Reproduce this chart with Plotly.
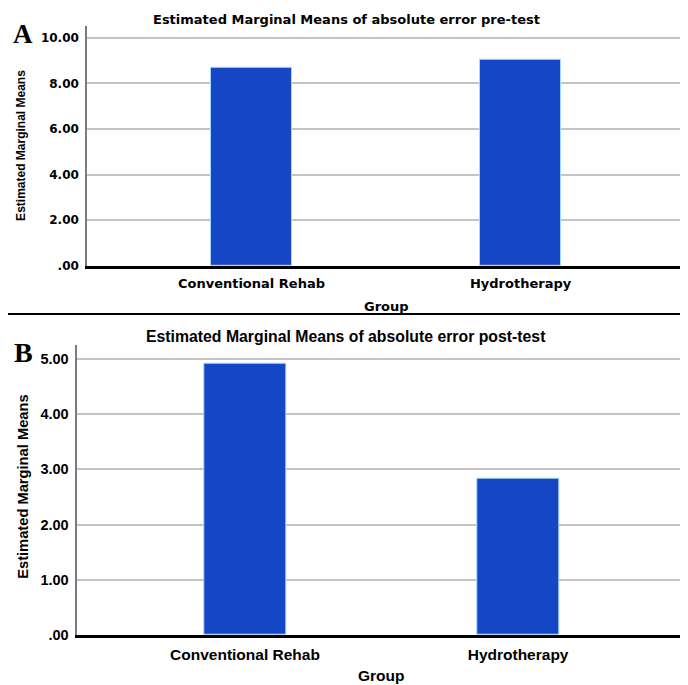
import plotly.graph_objects as go

# ---- data ----
groups = ["Conventional Rehab", "Hydrotherapy"]
pre_means = [8.67, 9.03]
post_means = [4.92, 2.84]
pre_tick_vals = [0, 2, 4, 6, 8, 10]
pre_tick_text = [".00", "2.00", "4.00", "6.00", "8.00", "10.00"]
post_tick_vals = [0, 1, 2, 3, 4, 5]
post_tick_text = [".00", "1.00", "2.00", "3.00", "4.00", "5.00"]
title_pre = "Estimated Marginal Means of absolute error pre-test"
title_post = "Estimated Marginal Means of absolute error post-test"
y_title = "Estimated Marginal Means"
x_title = "Group"

W, H = 688, 685
def px(x):
    return x / W
def py(y):
    return 1 - y / H

BAR = "#1446c6"
EDGE = "#a8d6f6"
GRID = "#c4c4c4"
AX = "#7a7a7a"
WIDE = "DejaVu Sans"
ARIAL = "Liberation Sans, Arial, sans-serif"

fig = go.Figure()
fig.add_trace(go.Bar(x=groups, y=pre_means, width=0.30, xaxis="x", yaxis="y",
                     marker=dict(color=BAR, line=dict(color=EDGE, width=1)),
                     showlegend=False, hoverinfo="x+y"))
fig.add_trace(go.Bar(x=groups, y=post_means, width=0.30, xaxis="x2", yaxis="y2",
                     marker=dict(color=BAR, line=dict(color=EDGE, width=1)),
                     showlegend=False, hoverinfo="x+y"))

common_x = dict(type="category", showgrid=False, zeroline=False, showline=True,
                linecolor="black", linewidth=3, ticks="", fixedrange=True)
common_y = dict(showgrid=True, gridcolor=GRID, gridwidth=1.5, zeroline=False,
                showline=True, linecolor=AX, linewidth=1.5, ticks="",
                ticklabelstandoff=4, fixedrange=True)

fig.update_layout(
    width=W, height=H, autosize=False,
    margin=dict(l=0, r=0, t=0, b=0),
    paper_bgcolor="white", plot_bgcolor="white",
    bargap=0,
    xaxis=dict(common_x, domain=[px(79), px(677)], range=[-0.611, 1.611], anchor="y",
               tickfont=dict(family=WIDE, size=13, color="black", weight="bold"),
               ticklabelstandoff=3),
    yaxis=dict(common_y, domain=[py(261), py(18)], range=[0, 10.52], anchor="x",
               tickvals=pre_tick_vals, ticktext=pre_tick_text,
               tickfont=dict(family=WIDE, size=12, color="black", weight="bold")),
    xaxis2=dict(common_x, domain=[px(69.3), px(676.7)], range=[-0.614, 1.61], anchor="y2",
                tickfont=dict(family=ARIAL, size=15.5, color="black", weight="bold"),
                ticklabelstandoff=4),
    yaxis2=dict(common_y, domain=[py(634.3), py(340.7)], range=[0, 5.26], anchor="x2",
                tickvals=post_tick_vals, ticktext=post_tick_text,
                tickfont=dict(family=ARIAL, size=14.5, color="black", weight="bold")),
)

ann = []
# panel letters
ann.append(dict(text="A", x=px(15), y=py(26.5), font=dict(family="Liberation Serif, Times New Roman, serif", size=27, color="black", weight="bold")))
ann.append(dict(text="B", x=px(15), y=py(348.5), font=dict(family="Liberation Serif, Times New Roman, serif", size=28, color="black", weight="bold")))
# titles
ann.append(dict(text=title_pre, x=px(338.5), y=py(12), font=dict(family=WIDE, size=13, color="black", weight="bold")))
ann.append(dict(text=title_post, x=px(338), y=py(332), font=dict(family=ARIAL, size=15.8, color="black", weight="bold")))
# axis titles
ann.append(dict(text=x_title, x=px(378), y=py(302), font=dict(family=WIDE, size=13, color="black", weight="bold")))
ann.append(dict(text=x_title, x=px(373), y=py(675), font=dict(family=ARIAL, size=15.5, color="black", weight="bold")))
ann.append(dict(text=y_title, x=px(13.5), y=py(139), textangle=-90, font=dict(family=ARIAL, size=12, color="black", weight="bold")))
ann.append(dict(text=y_title, x=px(15.5), y=py(485), textangle=-90, font=dict(family=ARIAL, size=14.7, color="black", weight="bold")))
for a in ann:
    a.update(xref="paper", yref="paper", showarrow=False, xanchor="center", yanchor="middle")
fig.update_layout(annotations=ann)

# separator line between panels
fig.add_shape(type="line", xref="paper", yref="paper", x0=0, x1=1, y0=py(309.5), y1=py(309.5),
              line=dict(color="black", width=2))

fig.write_html("out.html")
